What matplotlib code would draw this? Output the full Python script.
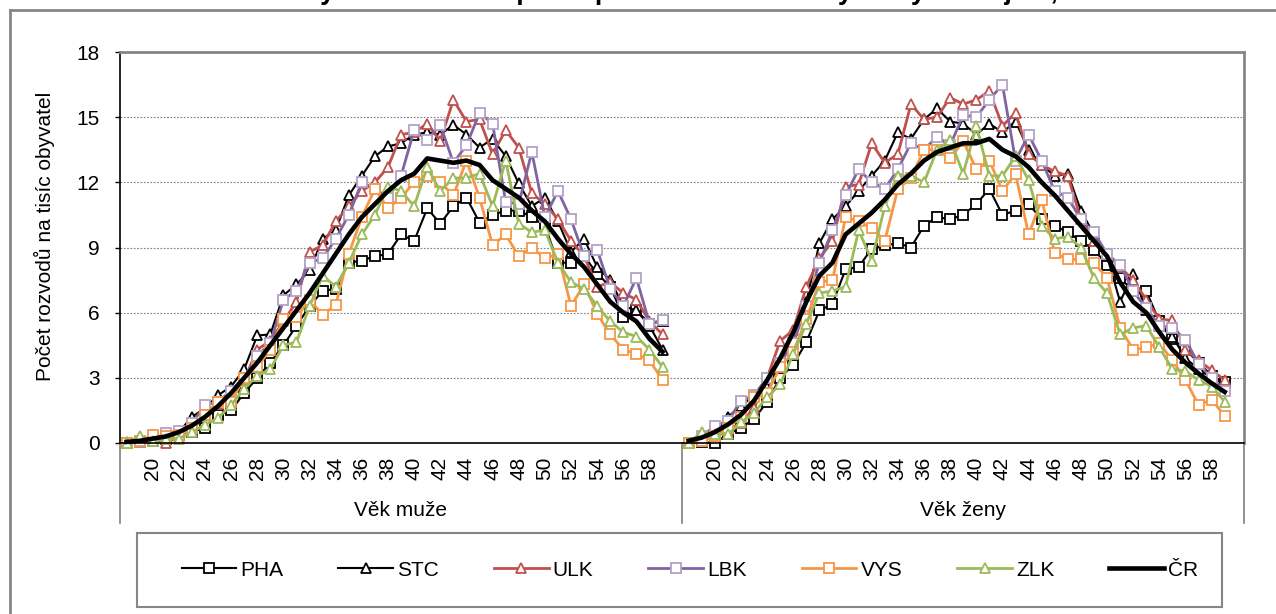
import matplotlib
matplotlib.use('Agg')
import matplotlib.pyplot as plt
import matplotlib.transforms as mtransforms
from matplotlib.patches import Rectangle
from matplotlib.lines import Line2D

plt.rcParams['font.family'] = ['Liberation Sans', 'DejaVu Sans']

# ---------------- data ----------------
ages = list(range(18, 60))
tick_ages = list(range(20, 59, 2))
group_labels = ['Věk muže', 'Věk ženy']
series_names = ['PHA', 'STC', 'ULK', 'LBK', 'VYS', 'ZLK', 'ČR']

m_pha = [0.0, 0.05, 0.1, 0.2, 0.35, 0.5, 0.7, 1.3, 1.5, 2.3, 3.0, 3.7, 4.5, 5.4, 6.3, 7.0, 7.1, 8.3, 8.4, 8.6,
         8.7, 9.6, 9.3, 10.8, 10.1, 10.9, 11.3, 10.15, 10.5, 10.7, 10.7, 10.4, 10.0, 8.3, 8.3, 8.6, 7.8, 7.2,
         5.8, 6.1, 5.5, 5.6]
m_stc = [0.02, 0.05, 0.2, 0.3, 0.5, 1.2, 1.6, 2.2, 2.6, 3.4, 4.95, 5.0, 6.8, 7.3, 7.95, 9.4, 9.8, 11.4, 12.3,
         13.2, 13.65, 13.8, 14.2, 14.3, 14.2, 14.65, 14.2, 13.6, 14.0, 13.2, 11.95, 10.9, 11.3, 10.2, 8.8, 9.4,
         8.1, 7.5, 6.3, 6.1, 5.4, 4.3]
m_ulk = [0.05, 0.1, 0.15, 0.0, 0.3, 0.6, 1.3, 1.8, 2.2, 2.9, 4.3, 4.7, 5.6, 6.5, 8.8, 9.1, 10.2, 10.9, 11.6,
         12.0, 12.7, 14.2, 14.3, 14.7, 13.9, 15.8, 14.8, 14.9, 13.3, 14.4, 13.6, 11.5, 11.0, 10.3, 9.3, 8.6,
         7.2, 7.4, 6.9, 6.6, 5.6, 5.0]
m_lbk = [0.0, 0.05, 0.1, 0.45, 0.55, 0.9, 1.75, 1.9, 2.4, 3.0, 4.0, 4.6, 6.6, 7.0, 8.3, 8.5, 9.4, 10.5, 12.0,
         11.7, 11.3, 12.3, 14.4, 13.95, 14.65, 12.9, 13.7, 15.2, 14.7, 11.1, 11.0, 13.4, 10.4, 11.6, 10.3, 8.6,
         8.9, 7.1, 6.3, 7.6, 5.5, 5.65]
m_vys = [0.0, 0.1, 0.35, 0.3, 0.35, 0.7, 1.3, 1.9, 1.9, 3.0, 3.5, 4.3, 5.7, 5.8, 6.6, 5.9, 6.35, 8.7, 10.4,
         11.7, 10.8, 11.3, 12.0, 12.3, 12.0, 11.4, 13.0, 11.3, 9.1, 9.6, 8.6, 9.0, 8.5, 8.7, 6.3, 7.3, 5.95,
         5.0, 4.3, 4.1, 3.8, 2.9]
m_zlk = [0.0, 0.3, 0.1, 0.2, 0.2, 0.5, 0.85, 1.15, 1.75, 2.5, 3.1, 3.4, 4.5, 4.65, 6.3, 7.7, 7.2, 8.3, 9.6,
         10.5, 11.8, 11.6, 10.9, 12.7, 11.6, 12.2, 12.2, 12.4, 10.9, 13.0, 10.1, 9.7, 9.8, 8.3, 7.4, 7.1, 6.3,
         5.6, 5.1, 4.9, 4.3, 3.5]
m_cr = [0.05, 0.1, 0.2, 0.3, 0.5, 0.8, 1.2, 1.7, 2.3, 3.0, 3.7, 4.5, 5.3, 6.1, 6.9, 7.8, 8.7, 9.6, 10.4, 11.0,
        11.6, 12.1, 12.4, 13.1, 13.0, 12.9, 13.0, 12.8, 12.1, 11.7, 11.3, 10.7, 10.2, 9.4, 8.7, 8.1, 7.3, 6.5,
        6.0, 5.6, 4.8, 4.2]

z_pha = [0.0, 0.05, 0.0, 0.4, 0.7, 1.1, 1.9, 3.0, 3.6, 4.65, 6.1, 6.4, 8.0, 8.1, 8.95, 9.1, 9.2, 9.0, 10.0,
         10.4, 10.3, 10.5, 11.0, 11.7, 10.5, 10.7, 11.0, 10.3, 10.0, 9.7, 9.3, 8.9, 8.2, 7.6, 7.0, 7.0, 5.6,
         4.8, 4.3, 3.7, 3.1, 2.8]
z_stc = [0.0, 0.1, 0.4, 1.2, 1.7, 2.2, 2.6, 3.6, 4.9, 6.5, 9.2, 10.3, 10.9, 11.6, 12.3, 13.0, 14.3, 14.0,
         14.9, 15.4, 14.8, 14.7, 14.2, 14.7, 14.3, 14.8, 13.5, 12.8, 12.3, 12.4, 10.7, 9.6, 8.6, 6.5, 7.8, 6.1,
         5.4, 4.9, 3.9, 3.4, 3.0, 2.7]
z_ulk = [0.0, 0.1, 0.3, 0.6, 0.9, 1.6, 3.0, 4.7, 5.2, 7.2, 8.5, 9.3, 11.8, 11.9, 13.8, 12.9, 13.3, 15.6, 14.9,
         15.0, 15.9, 15.6, 15.8, 16.2, 14.6, 15.2, 13.3, 12.8, 12.5, 12.3, 10.3, 9.3, 8.7, 8.1, 7.5, 6.6, 5.7,
         5.65, 4.3, 3.8, 3.35, 2.9]
z_lbk = [0.0, 0.3, 0.8, 1.0, 1.95, 2.2, 3.0, 3.7, 4.6, 6.3, 8.3, 9.8, 11.4, 12.6, 12.0, 11.7, 12.6, 13.8, 13.5,
         14.1, 13.7, 15.1, 15.0, 15.8, 16.5, 13.0, 14.2, 13.0, 11.6, 11.3, 10.3, 9.7, 8.7, 8.2, 7.0, 6.2, 5.4,
         5.3, 4.75, 3.65, 3.0, 2.4]
z_vys = [0.0, 0.1, 0.3, 0.7, 1.2, 2.1, 2.3, 3.5, 4.2, 5.7, 7.4, 7.5, 10.4, 10.2, 9.9, 9.3, 11.7, 12.2, 13.5,
         13.5, 13.1, 13.9, 12.6, 13.0, 11.6, 12.4, 9.6, 11.2, 8.75, 8.45, 8.45, 8.3, 7.6, 5.3, 4.3, 4.4, 4.6,
         3.8, 2.9, 1.75, 2.0, 1.25]
z_zlk = [0.0, 0.5, 0.4, 0.4, 0.95, 1.4, 2.1, 2.7, 4.1, 5.5, 6.9, 7.0, 7.2, 9.8, 8.4, 10.9, 12.3, 12.3, 12.0,
         13.5, 13.95, 12.4, 14.6, 12.3, 12.3, 13.2, 12.1, 10.0, 9.4, 9.5, 9.0, 7.6, 6.9, 5.0, 5.3, 5.4, 4.4,
         3.4, 3.3, 2.9, 2.6, 1.9]
z_cr = [0.1, 0.25, 0.5, 0.85, 1.3, 1.95, 2.9, 3.9, 5.1, 6.5, 7.7, 8.3, 9.6, 10.1, 10.6, 11.2, 11.9, 12.4, 13.0,
        13.4, 13.6, 13.8, 13.8, 14.0, 13.5, 13.2, 12.7, 12.0, 11.4, 10.7, 10.0, 9.3, 8.6, 7.4, 6.5, 6.0, 5.1,
        4.3, 3.7, 3.2, 2.75, 2.35]

men = [m_pha, m_stc, m_ulk, m_lbk, m_vys, m_zlk, m_cr]
women = [z_pha, z_stc, z_ulk, z_lbk, z_vys, z_zlk, z_cr]

# ---------------- styles ----------------
styles = [
    dict(color='black', lw=1.5, marker='s', mec='black'),
    dict(color='black', lw=1.5, marker='^', mec='black'),
    dict(color='#C0504D', lw=2.0, marker='^', mec='#C0504D'),
    dict(color='#8064A2', lw=2.0, marker='s', mec='#B3A2C7'),
    dict(color='#F79646', lw=2.0, marker='s', mec='#F79646'),
    dict(color='#9BBB59', lw=2.0, marker='^', mec='#9BBB59'),
    dict(color='black', lw=3.3, marker=None, mec='black'),
]

W, H = 1276, 614
FS = 15
fig = plt.figure(figsize=(W / 100, H / 100), dpi=100)
ax = fig.add_axes([120 / W, 1 - 443 / H, 1124.3 / W, 391 / H])

n_group = len(ages) + 1  # one empty category (60) per group
x_men = [a - ages[0] for a in ages]
x_women = [n_group + a - ages[0] for a in ages]

handles = []
for name, st, ym, yw in zip(series_names, styles, men, women):
    kw = dict(color=st['color'], lw=st['lw'], solid_joinstyle='round')
    if st['marker']:
        kw.update(marker=st['marker'], markersize=7.2, markerfacecolor='white',
                  markeredgecolor=st['mec'], markeredgewidth=1.3)
    h, = ax.plot(x_men, ym, label=name, clip_on=False, **kw)
    ax.plot(x_women, yw, clip_on=False, **kw)
    handles.append(h)

ax.set_xlim(-0.5, 2 * n_group - 0.5)
ax.set_ylim(0, 18)
ax.set_yticks(range(0, 19, 3))
tick_pos = [a - ages[0] for a in tick_ages] + [n_group + a - ages[0] for a in tick_ages]
ax.set_xticks(tick_pos)
ax.set_xticklabels([str(a) for a in tick_ages] * 2, rotation=90)
ax.tick_params(axis='x', length=0, pad=10, labelsize=FS)
ax.tick_params(axis='y', direction='out', length=3.6, width=1, pad=10.8, labelsize=FS)

ax.yaxis.grid(True, linestyle=(0, (1.5, 1.5)), color='#7f7f7f', lw=0.8)
ax.set_axisbelow(True)
for s in ['left', 'bottom']:
    ax.spines[s].set_color('black')
    ax.spines[s].set_linewidth(1.2)
for s in ['top', 'right']:
    ax.spines[s].set_color('#868686')
    ax.spines[s].set_linewidth(2)

# group separators below the axis
trans = mtransforms.blended_transform_factory(ax.transData, ax.transAxes)
for xv in (-0.5, n_group - 0.5, 2 * n_group - 0.5):
    ax.plot([xv, xv], [0, -80 / 391], transform=trans, clip_on=False, color='#7f7f7f', lw=1.2)

fig.text(401 / W, 1 - 510 / H, group_labels[0], ha='center', va='center', fontsize=FS)
fig.text(963 / W, 1 - 510 / H, group_labels[1], ha='center', va='center', fontsize=FS)

fig.text(44 / W, 1 - 236 / H, 'Počet rozvodů na tisíc obyvatel', rotation=90,
         ha='center', va='center', fontsize=FS)

# legend
fig.add_artist(Rectangle((137 / W, 1 - 607 / H), (1222 - 137) / W, 74 / H, transform=fig.transFigure,
                         fill=False, edgecolor='#868686', lw=1.5))
fig.legend(handles, series_names, ncol=7, loc='center', bbox_to_anchor=(690 / W, 1 - 570 / H),
           bbox_transform=fig.transFigure, frameon=False, fontsize=FS, handlelength=2.63,
           handletextpad=0.2, columnspacing=2.63, borderpad=0, borderaxespad=0)

# outer chart border (top / left)
fig.add_artist(Line2D([10 / W, 10 / W], [0, 1 - 10 / H], transform=fig.transFigure, color='#868686', lw=2))
fig.add_artist(Line2D([10 / W, 1], [1 - 10 / H, 1 - 10 / H], transform=fig.transFigure, color='#868686', lw=2))

# title (cut off at the top edge, only descenders visible)
title = 'Míry rozvodovosti podle pohlaví a věku ve vybraných krajích, 2011'
r = fig.canvas.get_renderer()


def tw(s, fs):
    t = fig.text(0, 0, s, fontsize=fs, fontweight='bold')
    e = t.get_window_extent(r).width
    t.remove()
    return e


fs0 = 10
a0 = tw('Mír', fs0) + tw('y', fs0) / 2
b0 = tw('Míry rozvodovosti podle pohlaví a věku ve vybraných krajích', fs0) + tw(',', fs0) / 2
fs_t = fs0 * (1057 - 328) / (b0 - a0)
x0 = 328 - a0 * fs_t / fs0
fig.text(x0 / W, 1 + 1.5 / H, title, fontsize=fs_t, fontweight='bold', ha='left', va='baseline')

fig.savefig('out.png', dpi=100)
